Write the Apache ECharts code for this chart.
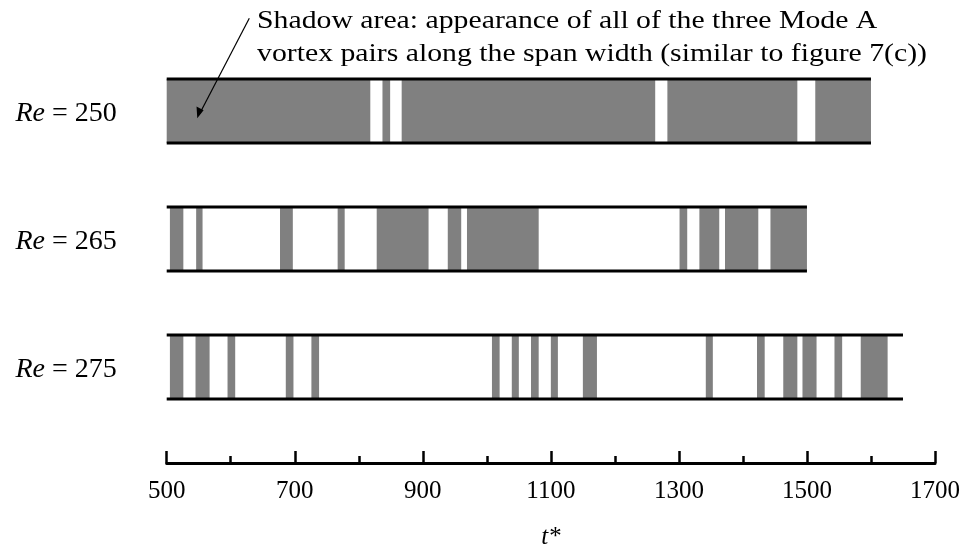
<!DOCTYPE html>
<html>
<head>
<meta charset="utf-8">
<script src="https://cdn.jsdelivr.net/npm/echarts@6/dist/echarts.min.js"></script>
<style>
html,body{margin:0;padding:0;background:#fff;}
#c{width:962px;height:547px;}
</style>
</head>
<body>
<div id="c"></div>
<script>
// Row labels (Reynolds numbers) and their time-span end values
const reValues = ['250', '265', '275'];
const rowPos = [2.75, 1.75, 0.75];
const spanStart = 500;
const spanEnd = [1600, 1500, 1650];

// Shaded intervals (t*) for each Reynolds number
const shaded250 = [[500,818],[837,849],[867,1263],[1282,1485],[1513,1600]];
const shaded265 = [[505,526],[546,556],[677,697],[767,778],[828,909],[939,960],[969,1081],[1301,1313],[1332,1363],[1372,1424],[1443,1500]];
const shaded275 = [[505,526],[545,567],[595,607],[686,698],[726,738],[1008,1020],[1039,1050],[1069,1081],[1100,1111],[1150,1172],[1342,1353],[1422,1434],[1463,1485],[1493,1515],[1543,1555],[1584,1626]];

// Axis ticks
const xMin = 500, xMax = 1700, xInterval = 200;
const axisTitle = 't*';
const noteLines = [
  'Shadow area: appearance of all of the three Mode A',
  'vortex pairs along the span width (similar to figure 7(c))'
];

const FONT = '"Liberation Serif", "Times New Roman", serif';
const halfBand = 0.25;

const shadedAll = [shaded250, shaded265, shaded275];
const rectData = [];
shadedAll.forEach((arr, i) => arr.forEach(s => rectData.push([s[0], s[1], rowPos[i]])));
const lineData = spanEnd.map((e, i) => [spanStart, e, rowPos[i]]);
const labelData = reValues.map((v, i) => [spanStart, rowPos[i], v]);

const chart = echarts.init(document.getElementById('c'), null, {renderer: 'canvas'});
chart.setOption({
  animation: false,
  backgroundColor: '#fff',
  grid: {left: 166.7, right: 27, top: 47, bottom: 84, containLabel: false, outerBoundsMode: 'none'},
  xAxis: {
    type: 'value', min: xMin, max: xMax, interval: xInterval,
    name: axisTitle, nameLocation: 'middle', nameGap: 62,
    nameTextStyle: {fontFamily: FONT, fontSize: 25, fontStyle: 'italic', color: '#000'},
    axisLine: {show: true, lineStyle: {color: '#000', width: 3}},
    axisTick: {show: true, inside: true, length: 12, lineStyle: {color: '#000', width: 2.5}},
    minorTick: {show: true, splitNumber: 2, length: 7, lineStyle: {color: '#000', width: 2.5}},
    axisLabel: {fontFamily: FONT, fontSize: 25, color: '#000', margin: 16,
      formatter: function (v) { return String(v); }},
    splitLine: {show: false},
    minorSplitLine: {show: false}
  },
  yAxis: {type: 'value', min: 0, max: 3.25, show: false},
  series: [
    {
      type: 'custom',
      data: rectData,
      renderItem: function (params, api) {
        const p0 = api.coord([api.value(0), api.value(2) + halfBand]);
        const p1 = api.coord([api.value(1), api.value(2) - halfBand]);
        return {type: 'rect', shape: {x: p0[0], y: p0[1], width: p1[0] - p0[0], height: p1[1] - p0[1]},
          style: {fill: '#808080'}};
      }
    },
    {
      type: 'custom',
      data: lineData,
      renderItem: function (params, api) {
        const a = api.coord([api.value(0), api.value(2) + halfBand]);
        const b = api.coord([api.value(1), api.value(2) + halfBand]);
        const c = api.coord([api.value(0), api.value(2) - halfBand]);
        const d = api.coord([api.value(1), api.value(2) - halfBand]);
        return {type: 'group', children: [
          {type: 'line', shape: {x1: a[0], y1: a[1], x2: b[0], y2: b[1]}, style: {stroke: '#000', lineWidth: 3}},
          {type: 'line', shape: {x1: c[0], y1: c[1], x2: d[0], y2: d[1]}, style: {stroke: '#000', lineWidth: 3}}
        ]};
      }
    },
    {
      type: 'custom',
      data: labelData,
      renderItem: function (params, api) {
        const p = api.coord([api.value(0), api.value(1)]);
        return {type: 'text', x: p[0] - 50, y: p[1] + 3,
          style: {text: '{i|Re} = ' + reValues[params.dataIndex], align: 'right', verticalAlign: 'middle',
            fontFamily: FONT, fontSize: 28, fill: '#000',
            rich: {i: {fontFamily: FONT, fontSize: 28, fontStyle: 'italic', fill: '#000'}}}};
      }
    }
  ],
  graphic: [
    {type: 'text', x: 257, y: 21, z: 100, scaleX: 1.19, style: {text: noteLines[0], fontFamily: FONT, fontSize: 25, fill: '#000', verticalAlign: 'middle'}},
    {type: 'text', x: 257, y: 54, z: 100, scaleX: 1.19, style: {text: noteLines[1], fontFamily: FONT, fontSize: 25, fill: '#000', verticalAlign: 'middle'}},
    {type: 'line', z: 100, shape: {x1: 249.3, y1: 18.3, x2: 199.5, y2: 114}, style: {stroke: '#000', lineWidth: 1.2}},
    {type: 'polygon', z: 100, shape: {points: [[197.3, 118.3], [196.5, 106.5], [203.6, 110.2]]}, style: {fill: '#000'}}
  ]
});
</script>
</body>
</html>
